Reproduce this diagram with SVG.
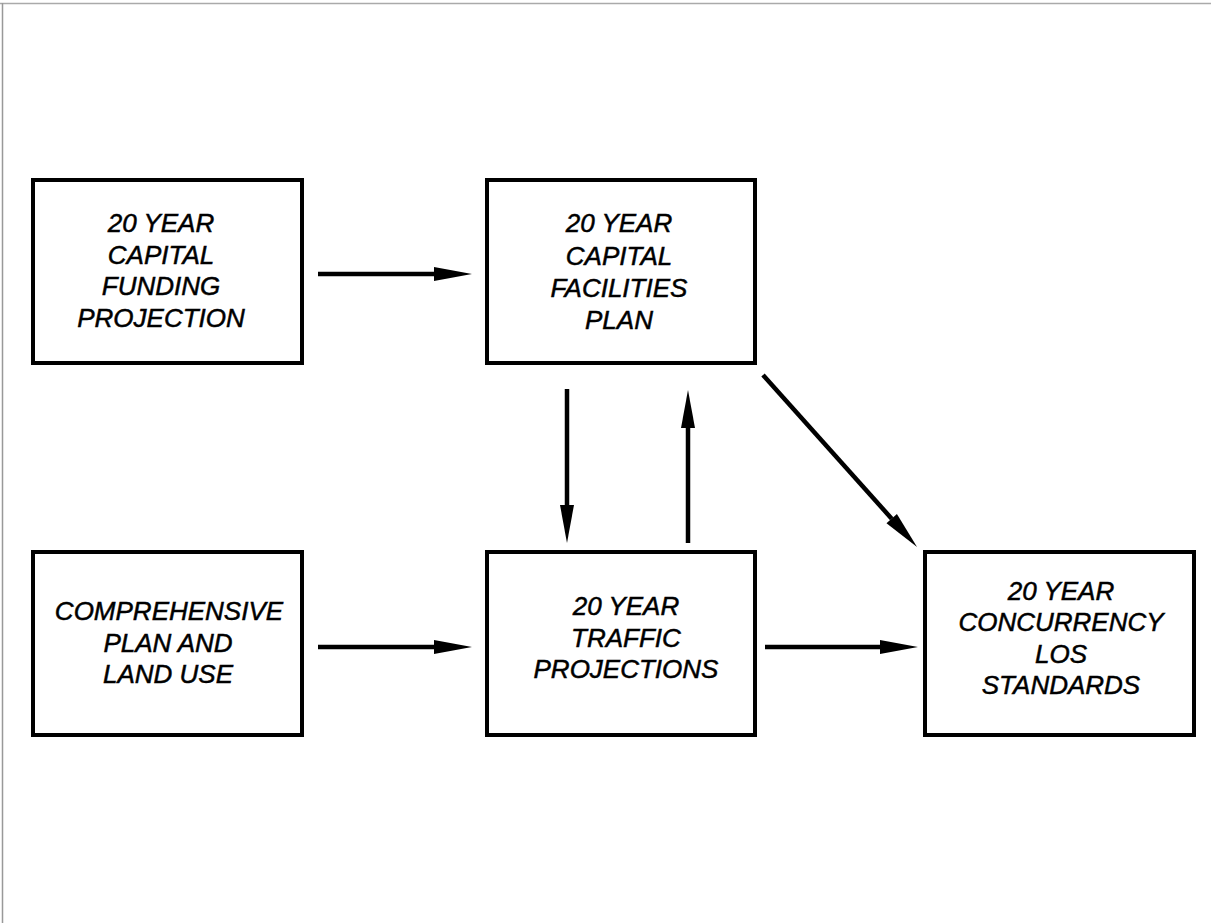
<svg xmlns="http://www.w3.org/2000/svg" width="1211" height="923" viewBox="0 0 1211 923">
<style>
.box{fill:#fff;stroke:#000;stroke-width:4}
.lbl{font-family:"Liberation Sans",Arial,sans-serif;font-style:italic;font-size:26px;fill:#000;stroke:#000;stroke-width:0.5;text-anchor:middle}
.con{stroke:#000;stroke-width:4.5;fill:none;marker-end:url(#ah)}
</style>
<defs>
<marker id="ah" markerUnits="userSpaceOnUse" markerWidth="40" markerHeight="16" refX="0" refY="7" orient="auto" viewBox="0 0 40 14" overflow="visible">
<path d="M0,0 L38,7 L0,14 Z" fill="#000"/>
</marker>
</defs>
<rect width="1211" height="923" fill="#fff"/>
<line x1="0" y1="3.5" x2="1211" y2="3.5" stroke="#aaa" stroke-width="1.5"/>
<line x1="2.5" y1="3" x2="2.5" y2="923" stroke="#999" stroke-width="1.5"/>
<g id="n1">
<rect class="box" x="33" y="180" width="269" height="183"/>
<text class="lbl"><tspan x="161" y="232">20 YEAR</tspan><tspan x="161" y="264">CAPITAL</tspan><tspan x="161" y="295">FUNDING</tspan><tspan x="161" y="327">PROJECTION</tspan></text>
</g>
<g id="n2">
<rect class="box" x="487" y="180" width="268" height="183"/>
<text class="lbl"><tspan x="619" y="232">20 YEAR</tspan><tspan x="619" y="265">CAPITAL</tspan><tspan x="619" y="297">FACILITIES</tspan><tspan x="619" y="329">PLAN</tspan></text>
</g>
<g id="n3">
<rect class="box" x="33" y="552" width="269" height="183"/>
<text class="lbl"><tspan x="169" y="620">COMPREHENSIVE</tspan><tspan x="168" y="652">PLAN AND</tspan><tspan x="168" y="683">LAND USE</tspan></text>
</g>
<g id="n4">
<rect class="box" x="487" y="552" width="268" height="183"/>
<text class="lbl"><tspan x="626" y="615">20 YEAR</tspan><tspan x="626" y="647">TRAFFIC</tspan><tspan x="626" y="678">PROJECTIONS</tspan></text>
</g>
<g id="n5">
<rect class="box" x="925" y="552" width="269" height="183"/>
<text class="lbl"><tspan x="1061" y="600">20 YEAR</tspan><tspan x="1061" y="631">CONCURRENCY</tspan><tspan x="1061" y="663">LOS</tspan><tspan x="1061" y="694">STANDARDS</tspan></text>
</g>
<g id="connectors">
<line class="con" x1="318" y1="274" x2="434" y2="274"/>
<line class="con" x1="567" y1="389" x2="567" y2="505"/>
<line class="con" x1="688" y1="543" x2="688" y2="428"/>
<line class="con" x1="763" y1="375" x2="891.7" y2="518.7"/>
<line class="con" x1="318" y1="647" x2="434" y2="647"/>
<line class="con" x1="765" y1="647" x2="880" y2="647"/>
</g>
</svg>
